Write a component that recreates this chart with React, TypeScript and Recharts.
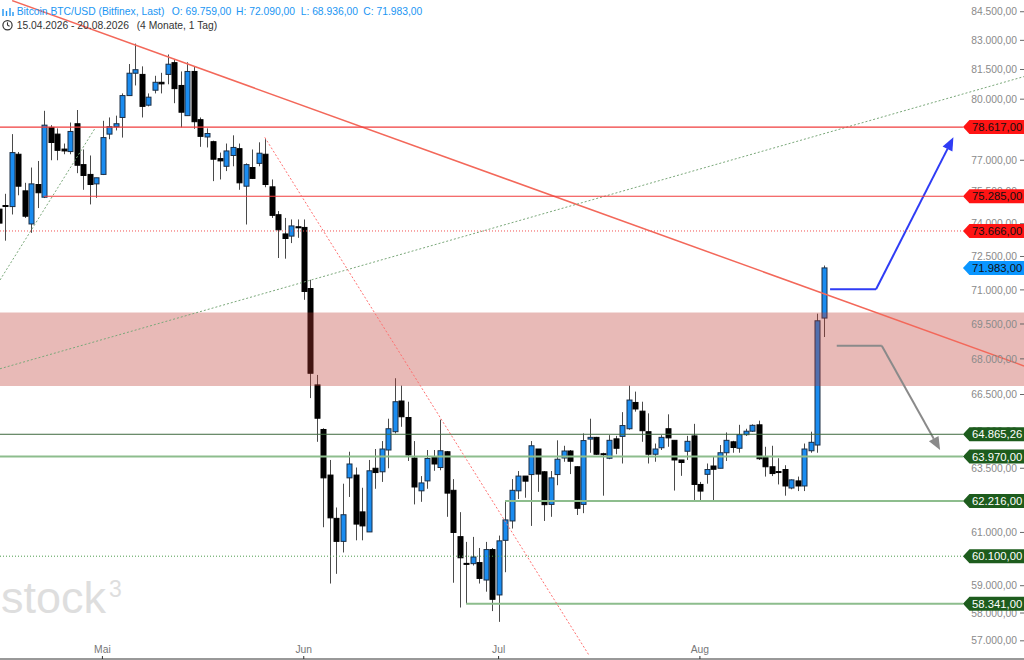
import React from 'react';
import { ComposedChart, Bar, XAxis, YAxis, ReferenceLine, ReferenceArea, ReferenceDot } from 'recharts';

// ---- candle data (daily, index 0 = 15.04.2026) ----
const opens = [
  74680, 74850, 74800, 77290, 75540, 73990, 75840, 75240, 78600, 78270,
  77540, 77420, 78780, 76790, 76320, 75870, 76320, 78270, 78630, 79090,
  80180, 81310, 81250, 79700, 80450, 80850, 81250, 81850, 80690, 79180,
  81400, 78980, 78130, 77900, 77080, 76710, 77230, 77560, 75760, 76650,
  76850, 77290, 75730, 74420, 73530, 73430, 73860, 73830, 71060, 66900,
  65060, 63230, 61540, 60660, 63120, 63230, 61790, 61020, 63500, 63360,
  64230, 64970, 66230, 65550, 63910, 62610, 63000, 63960, 63530, 64160,
  62630, 60840, 59830, 59820, 59860, 59210, 60350, 58660, 60700, 61440,
  62610, 63190, 63250, 64270, 63360, 62080, 63250, 63910, 64190, 63560,
  62080, 64670, 64740, 64080, 63900, 64680, 64780, 65090, 66170, 65810,
  64970, 64060, 64320, 65090, 64620, 63830, 64180, 64800, 62860, 63260,
  63590, 63500, 64120, 64560, 64300, 64850, 64990, 65250, 63930, 63560,
  63370, 63450, 62720, 63000, 62800, 64200, 64430, 69759,
];
const highs = [
  74900, 75400, 78270, 77400, 75920, 76650, 76965, 79420, 78710, 78550,
  77810, 78840, 79460, 77520, 77230, 76160, 78925, 79090, 79180, 80290,
  81780, 82830, 81660, 80290, 81180, 81330, 82270, 82030, 81400, 81870,
  81670, 79090, 78550, 77950, 77370, 77810, 78210, 77810, 76850, 77520,
  77870, 78020, 76080, 74590, 74270, 74200, 74200, 74200, 71450, 67320,
  65110, 63830, 61960, 62890, 64160, 63530, 62730, 63830, 64270, 64590,
  65500, 67180, 66870, 66200, 64590, 63190, 64230, 64230, 65460, 64190,
  63070, 61780, 60640, 60830, 60410, 60640, 60410, 60880, 62216, 63070,
  63390, 63190, 64590, 64270, 63390, 63390, 64620, 64400, 64230, 63580,
  64900, 65500, 64760, 64120, 64830, 64800, 65770, 66870, 66620, 66200,
  65720, 64490, 64830, 65680, 64620, 63830, 64800, 65290, 62960, 63690,
  63960, 64430, 64940, 64600, 65250, 65090, 65270, 65420, 64360, 64400,
  63900, 63620, 63060, 63170, 64490, 64970, 69950, 72090,
];
const lows = [
  73800, 73220, 74430, 75330, 74270, 73580, 74730, 75200, 77000, 77000,
  77290, 77290, 76380, 75590, 74900, 75210, 76290, 78020, 78450, 78100,
  80180, 80690, 79090, 79640, 80290, 80290, 80750, 79800, 78600, 79180,
  78530, 77650, 77620, 76000, 76080, 76480, 76710, 75590, 73965, 76100,
  76710, 75710, 74270, 72430, 72400, 73110, 73350, 70560, 66350, 64560,
  61200, 59080, 59440, 60240, 62370, 60700, 60700, 61020, 62690, 62960,
  63500, 64900, 65170, 63790, 62080, 62180, 62690, 63400, 63420, 61600,
  59110, 58200, 58341, 59750, 59080, 58780, 58070, 57680, 59500, 61150,
  62290, 62340, 61250, 62570, 61440, 61600, 62830, 63760, 63270, 61670,
  61740, 64120, 64030, 62420, 63860, 64060, 63690, 65050, 65790, 64560,
  63690, 63760, 64230, 64360, 62620, 63200, 63830, 62180, 62210, 62890,
  62180, 63500, 63790, 64120, 64120, 64800, 64960, 63830, 63170, 63190,
  62860, 62420, 62670, 62600, 62600, 64120, 64120, 68936,
];
const closes = [
  74030, 74830, 77370, 75760, 74350, 75870, 75450, 78710, 77860, 77480,
  77450, 78400, 76760, 76270, 75840, 76160, 78100, 78630, 78780, 80180,
  81310, 81490, 79640, 80100, 80850, 80770, 81770, 80530, 79350, 81400,
  78880, 78160, 78300, 77050, 76970, 77450, 77620, 75920, 76790, 76130,
  77340, 75840, 74390, 73720, 73320, 73900, 73830, 70930, 67390, 65520,
  63120, 61560, 60660, 61680, 63670, 61320, 61250, 63400, 63330, 64270,
  65090, 66200, 65580, 64030, 62760, 62920, 63890, 63670, 64200, 62520,
  61000, 60040, 59800, 60070, 59270, 60350, 58500, 60680, 61480, 62630,
  63190, 62990, 64400, 63270, 62070, 63120, 63860, 64190, 63780, 61930,
  64610, 64740, 64060, 64060, 64620, 64300, 65220, 66270, 65900, 65010,
  64060, 64270, 64740, 64720, 63830, 63730, 64580, 62860, 62600, 63450,
  63460, 64120, 64620, 64330, 64850, 64990, 65230, 63880, 63560, 63290,
  63330, 62800, 63040, 62800, 64270, 64540, 69640, 71983,
];

// ---- axis ticks (ticks fully hidden behind price tags are left out) ----
const monthTicks = [16, 47, 77, 108];
const monthLabels = ['Mai', 'Jun', 'Jul', 'Aug'];
const priceTicks = [
  84500, 83000, 81500, 80000, 77000, 75500, 74000, 72500, 71000,
  69500, 68000, 66500, 65000, 63500, 61000, 59000, 58000, 57000,
];

// ---- horizontal levels ----
const redLevels = [78617, 75285];
const redLevelStarts = [0.23, 7];
const redDottedLevel = 73666;
const greenLevels = [63970, 62216, 58341];
const greenLevelStarts = [0.23, 78, 72];
const darkGreenLevel = 64865.26;
const greenDottedLevel = 60100;
const currentPrice = 71983;
const zoneLow = 66850;
const zoneHigh = 70000;

// ---- trend lines & arrows (index, price) ----
const trendRed = [{ x: 2.1, y: 85090 }, { x: 157.9, y: 67700 }];
const trendRedDotted = [{ x: 41.0, y: 78110 }, { x: 91.0, y: 56460 }];
const trendGreenSteep = [{ x: 0.23, y: 71440 }, { x: 14.86, y: 78555 }];
const trendGreenLong = [{ x: 0.23, y: 67580 }, { x: 157.9, y: 81140 }];
const blueArrow = [{ x: 128.04, y: 71025 }, { x: 135.12, y: 71025 }, { x: 147.03, y: 78114 }];
const grayArrow = [{ x: 129.07, y: 68560 }, { x: 136.0, y: 68560 }, { x: 144.98, y: 64230 }];

const X_MIN = 0.23;
const X_MAX = 157.9;
const Y_MIN = 56355;
const Y_MAX = 85123;
const TAG_X = 148.5;

const rows = opens.map((o, i) => ({
  d: i,
  o,
  h: highs[i],
  l: lows[i],
  c: closes[i],
  range: [lows[i], highs[i]],
}));

const fmt = (v: number) => {
  const [i, f] = v.toFixed(2).split('.');
  return i.replace(/\B(?=(\d{3})+(?!\d))/g, '.') + ',' + f;
};

const FONT = 'Liberation Sans, Arial, sans-serif';
const MARGIN = { top: 0, right: 0, bottom: 1, left: 0 };

const Candle = (props: any) => {
  const { x, y, width, height, payload } = props;
  if (!payload || x == null) return null;
  const { o, h, l, c } = payload;
  const cx = Math.round(x + width / 2) + 0.5;
  const top = Math.min(y, y + height);
  const bot = Math.max(y, y + height);
  const lh = Math.log(h);
  const ll = Math.log(l);
  const py = (p: number) => (lh === ll ? top : top + ((lh - Math.log(p)) / (lh - ll)) * (bot - top));
  const yo = py(o);
  const yc = py(c);
  const up = c >= o;
  const bt = Math.min(yo, yc);
  const bh = Math.max(Math.abs(yc - yo), 1);
  return (
    <g>
      <line x1={cx} x2={cx} y1={top} y2={bot} stroke="#4a4a4a" strokeWidth={1} />
      <rect
        x={cx - 2.5}
        y={bt}
        width={5}
        height={bh}
        fill={up ? '#1a8cf0' : '#000000'}
        stroke={up ? '#1c2e44' : '#000000'}
        strokeWidth={1}
      />
    </g>
  );
};

const arrowShape = (color: string) => (props: any) => {
  const { x1, y1, x2, y2 } = props;
  if (x1 == null) return null;
  const ang = Math.atan2(y2 - y1, x2 - x1);
  const L = 13;
  const W = 5.5;
  const bx = x2 - L * Math.cos(ang);
  const by = y2 - L * Math.sin(ang);
  const px = -Math.sin(ang) * W;
  const pyy = Math.cos(ang) * W;
  return (
    <g>
      <line x1={x1} y1={y1} x2={bx} y2={by} stroke={color} strokeWidth={2} />
      <polygon points={`${x2},${y2} ${bx + px},${by + pyy} ${bx - px},${by - pyy}`} fill={color} />
    </g>
  );
};

const tagShape = (bg: string, fg: string, value: number) => (props: any) => {
  const { cx, cy } = props;
  if (cx == null) return null;
  const h = 7;
  return (
    <g>
      <polygon
        points={`${cx},${cy} ${cx + 6.5},${cy - h} ${cx + 62},${cy - h} ${cx + 62},${cy + h} ${cx + 6.5},${cy + h}`}
        fill={bg}
      />
      <text x={cx + 9} y={cy} dy="0.36em" fill={fg} fontSize={11.3} fontFamily={FONT}>
        {fmt(value)}
      </text>
    </g>
  );
};

const ClockIcon = () => (
  <g>
    <circle cx={7.5} cy={25.3} r={4.6} fill="none" stroke="#333" strokeWidth={1.2} />
    <line x1={7.5} y1={25.3} x2={7.5} y2={22.3} stroke="#333" strokeWidth={1.1} />
    <line x1={7.5} y1={25.3} x2={9.6} y2={26.3} stroke="#333" strokeWidth={1.1} />
  </g>
);

const tags = [
  { v: redLevels[0], bg: '#ff1414', fg: '#111' },
  { v: redLevels[1], bg: '#ff1414', fg: '#111' },
  { v: redDottedLevel, bg: '#ff1414', fg: '#111' },
  { v: currentPrice, bg: '#0a96ff', fg: '#111' },
  { v: darkGreenLevel, bg: '#1d5c1d', fg: '#fff' },
  { v: greenLevels[0], bg: '#1d5c1d', fg: '#fff' },
  { v: greenLevels[1], bg: '#1d5c1d', fg: '#fff' },
  { v: greenDottedLevel, bg: '#1d5c1d', fg: '#fff' },
  { v: greenLevels[2], bg: '#1d5c1d', fg: '#fff' },
];

const last = rows.length - 1;

export default function App() {
  return (
    <div style={{ position: 'absolute', left: 0, top: 0, width: 1024, height: 660, background: '#fff', overflow: 'hidden' }}>
      <svg width={1024} height={660} style={{ position: 'absolute', left: 0, top: 0 }}>
        <text x={1} y={612.5} fontSize={45} fill="#dedede" fontFamily={FONT}>stock</text>
        <text x={109} y={597} fontSize={23} fill="#dedede" fontFamily={FONT}>3</text>
      </svg>
      <div style={{ position: 'absolute', left: 0, top: 0 }}>
        <ComposedChart width={1024} height={660} data={rows} margin={MARGIN} style={{ fontFamily: FONT }}>
          <XAxis
            dataKey="d"
            type="number"
            domain={[X_MIN, X_MAX]}
            allowDataOverflow
            ticks={monthTicks}
            interval={0}
            tickFormatter={(v: number) => monthLabels[monthTicks.indexOf(v)]}
            orientation="bottom"
            mirror
            tickSize={3}
            tickMargin={3}
            height={20}
            axisLine={{ stroke: '#333', strokeWidth: 1 }}
            tickLine={{ stroke: '#333' }}
            tick={{ fill: '#777', fontSize: 10.3, fontFamily: FONT }}
          />
          <YAxis
            orientation="right"
            mirror
            scale="log"
            domain={[Y_MIN, Y_MAX]}
            allowDataOverflow
            ticks={priceTicks}
            interval={0}
            tickFormatter={fmt}
            tickSize={4}
            tickMargin={3}
            width={60}
            axisLine={false}
            tickLine={{ stroke: '#666' }}
            tick={{ fill: '#8a8a8a', fontSize: 10.3, fontFamily: FONT }}
          />

          <ReferenceLine segment={trendGreenLong} stroke="#7aa87a" strokeDasharray="2 2" strokeWidth={1} ifOverflow="visible" />
          <ReferenceLine segment={trendGreenSteep} stroke="#7aa87a" strokeDasharray="2 2" strokeWidth={1} ifOverflow="visible" />

          {redLevels.map((v, i) => (
            <ReferenceLine key={'r' + i} segment={[{ x: redLevelStarts[i], y: v }, { x: TAG_X, y: v }]} stroke="#f03c3c" strokeWidth={1.2} ifOverflow="visible" />
          ))}
          <ReferenceLine segment={[{ x: X_MIN, y: redDottedLevel }, { x: TAG_X, y: redDottedLevel }]} stroke="#f25050" strokeDasharray="1 2" strokeWidth={1} ifOverflow="visible" />
          <ReferenceLine segment={[{ x: X_MIN, y: darkGreenLevel }, { x: TAG_X, y: darkGreenLevel }]} stroke="#3f6a3f" strokeWidth={1} ifOverflow="visible" />
          {greenLevels.map((v, i) => (
            <ReferenceLine key={'g' + i} segment={[{ x: greenLevelStarts[i], y: v }, { x: TAG_X, y: v }]} stroke="#8dbd8d" strokeWidth={2} ifOverflow="visible" />
          ))}
          <ReferenceLine segment={[{ x: X_MIN, y: greenDottedLevel }, { x: TAG_X, y: greenDottedLevel }]} stroke="#4c9a4c" strokeDasharray="1 2" strokeWidth={1} ifOverflow="visible" />

          <ReferenceLine segment={trendRedDotted} stroke="#ff7070" strokeDasharray="2 2" strokeWidth={1} ifOverflow="visible" />

          <Bar dataKey="range" barSize={5} isAnimationActive={false} shape={Candle} />

          <ReferenceArea y1={zoneLow} y2={zoneHigh} x1={X_MIN} x2={X_MAX} fill="#bd3a31" fillOpacity={0.35} stroke="none" ifOverflow="visible" zIndex={350} />

          <ReferenceLine segment={trendRed} stroke="#f3685a" strokeWidth={1.5} ifOverflow="visible" zIndex={360} />

          <ReferenceLine segment={[blueArrow[0], blueArrow[1]]} stroke="#2f3cf5" strokeWidth={2} ifOverflow="visible" zIndex={360} />
          <ReferenceLine segment={[blueArrow[1], blueArrow[2]]} stroke="#2f3cf5" ifOverflow="visible" shape={arrowShape('#2f3cf5')} zIndex={360} />
          <ReferenceLine segment={[grayArrow[0], grayArrow[1]]} stroke="#8a8a8a" strokeWidth={2} ifOverflow="visible" zIndex={360} />
          <ReferenceLine segment={[grayArrow[1], grayArrow[2]]} stroke="#8a8a8a" ifOverflow="visible" shape={arrowShape('#8a8a8a')} zIndex={360} />
        </ComposedChart>
      </div>
      <div style={{ position: 'absolute', left: 0, top: 0, pointerEvents: 'none' }}>
        <ComposedChart width={1024} height={660} data={rows} margin={MARGIN} style={{ fontFamily: FONT }}>
          <XAxis dataKey="d" type="number" domain={[X_MIN, X_MAX]} allowDataOverflow hide />
          <YAxis orientation="right" scale="log" domain={[Y_MIN, Y_MAX]} allowDataOverflow hide />
          {tags.map((t, i) => (
            <ReferenceDot key={'t' + i} x={TAG_X} y={t.v} r={1} ifOverflow="visible" shape={tagShape(t.bg, t.fg, t.v)} />
          ))}
        </ComposedChart>
      </div>
      <svg width={1024} height={40} style={{ position: 'absolute', left: 0, top: 0, pointerEvents: 'none' }}>
        <g stroke="#2196f3" strokeWidth={1.4}>
          <line x1={3} y1={9} x2={3} y2={16} />
          <line x1={6.5} y1={11} x2={6.5} y2={16} />
          <line x1={10} y1={8} x2={10} y2={16} />
          <line x1={13} y1={12} x2={13} y2={16} />
        </g>
        <g fill="#2196f3" fontSize={10.3} fontFamily={FONT}>
          <text x={16.7} y={15.2}>Bitcoin BTC/USD (Bitfinex, Last)</text>
          <text x={171.7} y={15.2}>{'O: ' + fmt(rows[last].o)}</text>
          <text x={236} y={15.2}>{'H: ' + fmt(rows[last].h)}</text>
          <text x={300.7} y={15.2}>{'L: ' + fmt(rows[last].l)}</text>
          <text x={363.3} y={15.2}>{'C: ' + fmt(rows[last].c)}</text>
        </g>
        <ClockIcon />
        <g fill="#333" fontSize={10.3} fontFamily={FONT}>
          <text x={16.7} y={29}>15.04.2026 - 20.08.2026</text>
          <text x={136.7} y={29}>(4 Monate, 1 Tag)</text>
        </g>
      </svg>
    </div>
  );
}
